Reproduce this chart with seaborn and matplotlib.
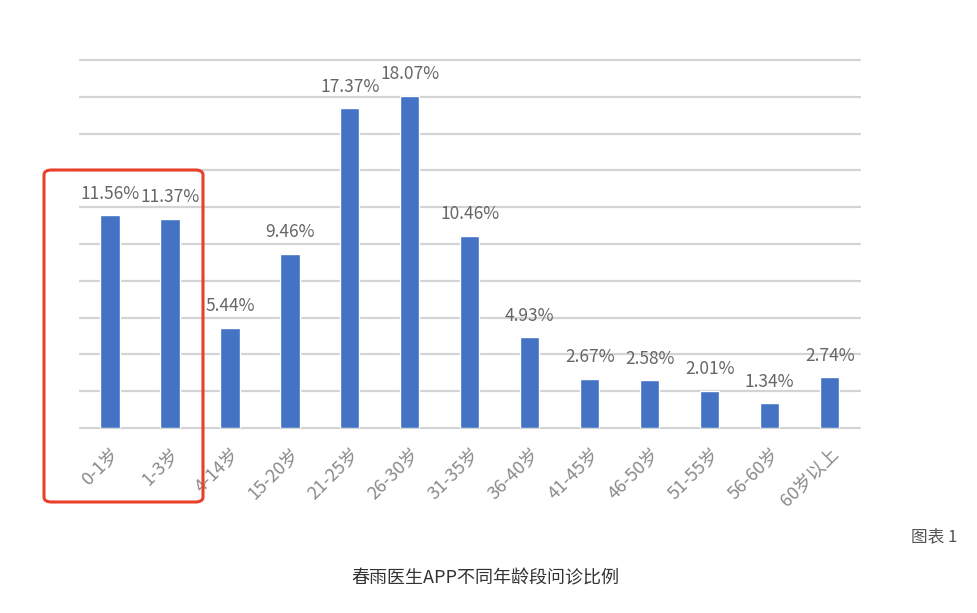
import matplotlib.pyplot as plt
import seaborn as sns
from matplotlib.patches import FancyBboxPatch

sns.set_style("white")
plt.rcParams['font.family'] = ['Noto Sans CJK SC', 'DejaVu Sans']

age_groups = ["0-1岁", "1-3岁", "4-14岁", "15-20岁", "21-25岁", "26-30岁", "31-35岁",
              "36-40岁", "41-45岁", "46-50岁", "51-55岁", "56-60岁", "60岁以上"]
share = [11.56, 11.37, 5.44, 9.46, 17.37, 18.07, 10.46, 4.93, 2.67, 2.58, 2.01, 1.34, 2.74]
y_ticks = [0, 2, 4, 6, 8, 10, 12, 14, 16, 18, 20]

fig = plt.figure(figsize=(9.77, 6.13), dpi=100)
ax = fig.add_axes([0.0819, 0.302, 0.798, 0.600])

sns.barplot(x=age_groups, y=share, color="#4472C4", saturation=1, width=0.32, ax=ax)

ax.set_ylim(0, 20)
ax.set_xlim(-0.5, len(age_groups) - 0.5)
ax.set_yticks(y_ticks)
ax.set_yticklabels([])
ax.yaxis.grid(True, color="#d4d4d4", linewidth=1.6)
for gl in ax.yaxis.get_gridlines():
    gl.set_clip_on(False)
ax.set_axisbelow(True)
ax.tick_params(axis="y", length=0)
ax.tick_params(axis="x", length=0, pad=12, colors="#8a8a8a", labelsize=13)
for lbl in ax.get_xticklabels():
    lbl.set_rotation(45)
    lbl.set_ha("right")
    lbl.set_rotation_mode("anchor")
for s in ax.spines.values():
    s.set_visible(False)

for i, v in enumerate(share):
    ax.annotate(f"{v:.2f}%", (i, v), xytext=(0, 9), textcoords="offset points",
                ha="center", va="bottom", fontsize=12.5, color="#666666")

# red highlight box around first two groups
box = FancyBboxPatch((44 / 977, 1 - 502 / 613), (203 - 44) / 977, (502 - 170) / 613,
                     boxstyle="round,pad=0,rounding_size=0.008", transform=fig.transFigure,
                     fill=False, edgecolor="#e8402a", linewidth=2.2, clip_on=False)
fig.patches.append(box)

fig.text(485 / 977, 1 - 578 / 613, "春雨医生APP不同年龄段问诊比例", ha="center", va="center",
         fontsize=13, color="#333333")
fig.text(957 / 977, 1 - 537 / 613, "图表 1", ha="right", va="center",
         fontsize=12, color="#555555")

fig.savefig("out.png", dpi=100)
